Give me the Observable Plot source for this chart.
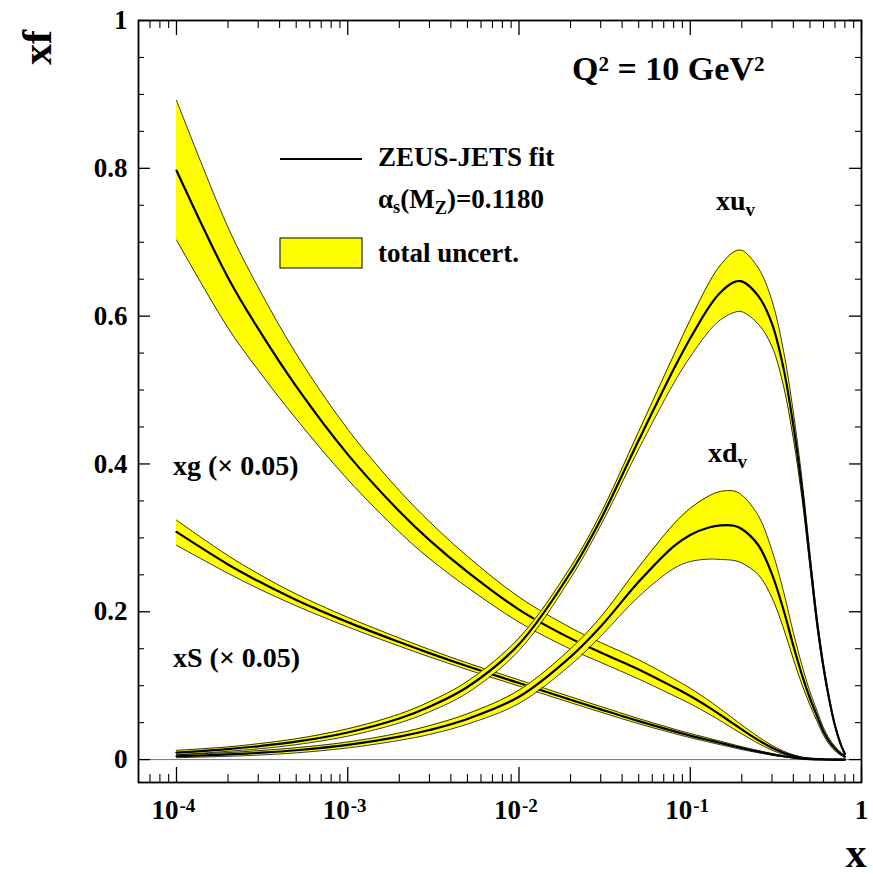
<!DOCTYPE html>
<html><head><meta charset="utf-8">
<script src="https://cdn.jsdelivr.net/npm/d3@7"></script>
<script src="https://cdn.jsdelivr.net/npm/@observablehq/plot@0.6"></script>
<style>html,body{margin:0;padding:0;background:#fff;} svg{display:block}</style>
</head><body><div id="chart"></div>
<script>
// ---- data (x, central value, lower and upper edge of total uncertainty) ----
const xs = [0.0001, 0.0002, 0.0003, 0.0005, 0.001, 0.002, 0.003, 0.005, 0.01, 0.02, 0.03, 0.05, 0.08, 0.1, 0.13, 0.15, 0.18, 0.2, 0.25, 0.3, 0.35, 0.4, 0.45, 0.5, 0.55, 0.6, 0.65, 0.7, 0.75, 0.8];

const gluon   = [0.797, 0.652, 0.583, 0.505, 0.413, 0.336, 0.297, 0.254, 0.203, 0.164, 0.145, 0.122, 0.098, 0.086, 0.070, 0.0605, 0.048, 0.0408, 0.0263, 0.016, 0.0093, 0.005, 0.0025, 0.0012, 0.0005, 0.0002, 0.0001, 0, 0, 0];
const gluonHi = [0.892, 0.720, 0.639, 0.549, 0.447, 0.364, 0.322, 0.275, 0.220, 0.1785, 0.1585, 0.135, 0.1095, 0.0965, 0.079, 0.0685, 0.0548, 0.0468, 0.0308, 0.0192, 0.0115, 0.0064, 0.0033, 0.0017, 0.0008, 0.0003, 0.0002, 0, 0, 0];
const gluonLo = [0.703, 0.584, 0.527, 0.461, 0.379, 0.308, 0.272, 0.233, 0.186, 0.1495, 0.1315, 0.109, 0.0865, 0.0755, 0.061, 0.0525, 0.0412, 0.0348, 0.0218, 0.0128, 0.0071, 0.0036, 0.0017, 0.0007, 0.0002, 0.0001, 0, 0, 0, 0];

const sea   = [0.308, 0.264, 0.2415, 0.216, 0.186, 0.159, 0.144, 0.1262, 0.1036, 0.081, 0.068, 0.052, 0.0385, 0.0325, 0.026, 0.0225, 0.018, 0.0155, 0.0107, 0.0071, 0.0045, 0.0026, 0.0014, 0.0007, 0.0003, 0.0001, 0, 0, 0, 0];
const seaHi = [0.324, 0.276, 0.2515, 0.224, 0.1925, 0.1645, 0.149, 0.1307, 0.1078, 0.085, 0.0718, 0.0555, 0.0415, 0.0353, 0.0286, 0.0249, 0.0201, 0.0174, 0.0122, 0.0082, 0.0053, 0.0031, 0.0017, 0.0009, 0.0004, 0.0001, 0, 0, 0, 0];
const seaLo = [0.290, 0.252, 0.2315, 0.208, 0.1795, 0.1535, 0.139, 0.1217, 0.0994, 0.077, 0.0642, 0.0485, 0.0355, 0.0297, 0.0234, 0.0201, 0.0159, 0.0136, 0.0092, 0.006, 0.0037, 0.0021, 0.0011, 0.0005, 0.0002, 0.0001, 0, 0, 0, 0];

const dv   = [0.0045, 0.0070, 0.0091, 0.0126, 0.0198, 0.031, 0.040, 0.055, 0.085, 0.139, 0.180, 0.2405, 0.2885, 0.304, 0.3143, 0.3168, 0.3164, 0.312, 0.290, 0.251, 0.203, 0.154, 0.114, 0.083, 0.059, 0.038, 0.024, 0.015, 0.0085, 0.004];
const dvHi = [0.0065, 0.0095, 0.0121, 0.0161, 0.0238, 0.036, 0.046, 0.062, 0.094, 0.150, 0.193, 0.2605, 0.3185, 0.340, 0.3573, 0.3628, 0.3634, 0.358, 0.330, 0.283, 0.228, 0.172, 0.127, 0.092, 0.066, 0.043, 0.028, 0.018, 0.0105, 0.0055];
const dvLo = [0.0025, 0.0045, 0.0061, 0.0091, 0.0158, 0.026, 0.034, 0.048, 0.076, 0.128, 0.167, 0.2205, 0.2585, 0.268, 0.2713, 0.2708, 0.2694, 0.266, 0.250, 0.219, 0.178, 0.136, 0.101, 0.074, 0.052, 0.033, 0.020, 0.012, 0.0065, 0.0025];

const uv   = [0.0095, 0.0142, 0.018, 0.0242, 0.0367, 0.0556, 0.0715, 0.0982, 0.156, 0.253, 0.325, 0.432, 0.528, 0.570, 0.614, 0.632, 0.646, 0.647, 0.627, 0.590, 0.530, 0.452, 0.365, 0.270, 0.186, 0.125, 0.080, 0.046, 0.023, 0.0075];
const uvHi = [0.0125, 0.0172, 0.0215, 0.0282, 0.0417, 0.0616, 0.0783, 0.106, 0.1645, 0.2605, 0.333, 0.444, 0.547, 0.595, 0.647, 0.669, 0.687, 0.689, 0.665, 0.621, 0.554, 0.470, 0.378, 0.279, 0.1925, 0.1295, 0.083, 0.048, 0.0245, 0.0085];
const uvLo = [0.0065, 0.0112, 0.0145, 0.0202, 0.0317, 0.0496, 0.0647, 0.0904, 0.1475, 0.2455, 0.317, 0.420, 0.509, 0.545, 0.581, 0.595, 0.605, 0.606, 0.589, 0.559, 0.506, 0.434, 0.352, 0.261, 0.1795, 0.1205, 0.077, 0.044, 0.0215, 0.0065];

// tick values / labels
const yMajorTicks = [0, 0.2, 0.4, 0.6, 0.8, 1];
const yTickLabels = ["0", "0.2", "0.4", "0.6", "0.8", "1"];
const yMinorTicks = [0.05, 0.1, 0.15, 0.25, 0.3, 0.35, 0.45, 0.5, 0.55, 0.65, 0.7, 0.75, 0.85, 0.9, 0.95];
const xDecades = [1e-4, 1e-3, 1e-2, 1e-1, 1];
const xDecadeBase = ["10", "10", "10", "10"];
const xDecadeExp = ["-4", "-3", "-2", "-1"];
const xMinorMult = [2, 3, 4, 5, 6, 7, 8, 9];
const xMinorLead = [7e-5, 8e-5, 9e-5];

// ---- build tables ----
const seriesList = [
  {mid: gluon, lo: gluonLo, hi: gluonHi},
  {mid: sea, lo: seaLo, hi: seaHi},
  {mid: dv, lo: dvLo, hi: dvHi},
  {mid: uv, lo: uvLo, hi: uvHi}
];
const tables = seriesList.map(s => xs.map((x, i) => ({x, mid: s.mid[i], lo: s.lo[i], hi: s.hi[i]})));
const xMinorTicks = xMinorLead.concat(...[1e-4, 1e-3, 1e-2, 1e-1].map(d => xMinorMult.map(m => +(m * d).toPrecision(3))));
const xPowLabels = xDecades.slice(0, 4).map((v, i) => ({v, base: xDecadeBase[i], exp: xDecadeExp[i]}));
const yLabelRows = yMajorTicks.map((v, i) => ({v, label: yTickLabels[i]}));

const FONT = '"Liberation Serif","Times New Roman",Times,serif';
const W = 873, H = 874, ML = 138, MR = 12, MT = 20, MB = 92;
const FW = W - ML - MR, FH = H - MT - MB;
const YELLOW = "#ffff00";
const curve = "catmull-rom";

const bandMarks = tables.flatMap(t => [
  Plot.areaY(t, {x: "x", y1: "lo", y2: "hi", fill: YELLOW, curve}),
  Plot.line(t, {x: "x", y: "lo", stroke: "black", strokeWidth: 0.8, curve}),
  Plot.line(t, {x: "x", y: "hi", stroke: "black", strokeWidth: 0.8, curve}),
  Plot.line(t, {x: "x", y: "mid", stroke: "black", strokeWidth: 2.2, curve})
]);

const textBase = {fill: "black", fontWeight: "bold", fontFamily: FONT};

const svg = Plot.plot({
  width: W, height: H,
  marginLeft: ML, marginRight: MR, marginTop: MT, marginBottom: MB,
  style: {fontFamily: FONT, background: "white", color: "black"},
  x: {type: "log", domain: [6e-5, 1], axis: null},
  y: {domain: [-0.031, 1], axis: null},
  marks: [
    Plot.ruleY([0], {stroke: "#777", strokeWidth: 1}),
    ...bandMarks,
    // ticks (inward)
    Plot.tickY(yMajorTicks, {y: d => d, insetRight: FW - 12, stroke: "black", strokeWidth: 1.3}),
    Plot.tickY(yMajorTicks, {y: d => d, insetLeft: FW - 12, stroke: "black", strokeWidth: 1.3}),
    Plot.tickY(yMinorTicks, {y: d => d, insetRight: FW - 6, stroke: "black", strokeWidth: 1.1}),
    Plot.tickY(yMinorTicks, {y: d => d, insetLeft: FW - 6, stroke: "black", strokeWidth: 1.1}),
    Plot.tickX(xDecades, {x: d => d, insetTop: FH - 15, stroke: "black", strokeWidth: 1.3}),
    Plot.tickX(xDecades, {x: d => d, insetBottom: FH - 15, stroke: "black", strokeWidth: 1.3}),
    Plot.tickX(xMinorTicks, {x: d => d, insetTop: FH - 8, stroke: "black", strokeWidth: 1.1}),
    Plot.tickX(xMinorTicks, {x: d => d, insetBottom: FH - 8, stroke: "black", strokeWidth: 1.1}),
    Plot.frame({stroke: "black", strokeWidth: 1.8}),
    // tick labels
    Plot.text(yLabelRows, {y: "v", text: "label", frameAnchor: "left", textAnchor: "end", dx: -11, fontSize: 27, ...textBase}),
    Plot.text(xPowLabels, {x: "v", text: "base", frameAnchor: "bottom", textAnchor: "end", lineAnchor: "bottom", dx: 2, dy: 36, fontSize: 27, ...textBase}),
    Plot.text(xPowLabels, {x: "v", text: "exp", frameAnchor: "bottom", textAnchor: "start", lineAnchor: "bottom", dx: 3, dy: 29, fontSize: 19, ...textBase}),
    Plot.text([1], {x: d => d, text: d => String(d), frameAnchor: "bottom", textAnchor: "middle", lineAnchor: "bottom", dy: 36, fontSize: 27, ...textBase}),
    // axis titles
    Plot.text(["x"], {text: d => d, frameAnchor: "bottom-right", textAnchor: "end", lineAnchor: "bottom", dx: 5, dy: 84, fontSize: 42, ...textBase}),
    Plot.text(["xf"], {text: d => d, frameAnchor: "top-left", textAnchor: "middle", lineAnchor: "bottom", rotate: -90, dx: -88, dy: 27, fontSize: 42, ...textBase})
  ]
});

// ---- annotations and legend (rich text with sub/superscripts) ----
const g = d3.select(svg).append("g")
  .attr("font-family", FONT).attr("font-weight", "bold").attr("fill", "black").attr("text-anchor", "start");
function rich(x, y, size, parts) {
  const t = g.append("text").attr("x", x).attr("y", y).attr("font-size", size).attr("text-anchor", "start");
  let shift = 0;
  for (const [s, dy = 0, scale = 1] of parts) {
    t.append("tspan").attr("dy", dy - shift).attr("font-size", size * scale).text(s);
    shift = dy;
  }
}
rich(572, 80, 34, [["Q"], ["2", -9, 0.62], [" = 10 GeV"], ["2", -9, 0.62]]);
rich(716, 210, 28, [["xu"], ["v", 6, 0.68]]);
rich(708, 462, 28, [["xd"], ["v", 6, 0.68]]);
rich(173, 475, 28, [["xg (× 0.05)"]]);
rich(173, 667, 28, [["xS (× 0.05)"]]);
// legend
g.append("line").attr("x1", 280).attr("x2", 362).attr("y1", 159).attr("y2", 159).attr("stroke", "black").attr("stroke-width", 2);
g.append("rect").attr("x", 280).attr("y", 238).attr("width", 82).attr("height", 30).attr("fill", YELLOW).attr("stroke", "black").attr("stroke-width", 1);
rich(378, 166, 27, [["ZEUS-JETS fit"]]);
rich(378, 208, 27, [["α"], ["s", 5, 0.68], ["(M"], ["Z", 6, 0.68], [")=0.1180"]]);
rich(378, 262, 27, [["total uncert."]]);

document.getElementById("chart").appendChild(svg);
</script>
</body></html>
